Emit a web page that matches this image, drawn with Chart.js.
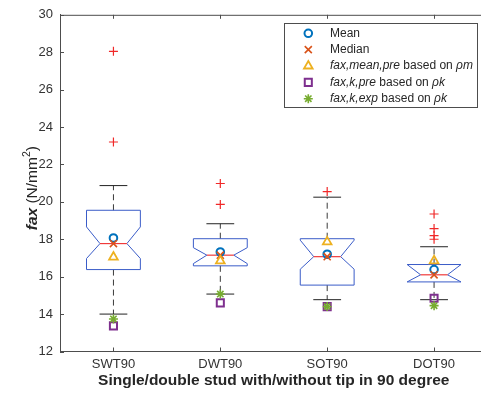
<!DOCTYPE html>
<html><head><meta charset="utf-8">
<script src="https://cdn.jsdelivr.net/npm/chart.js@4.4.1/dist/chart.umd.min.js"></script>
<style>
html,body{margin:0;padding:0;background:#fff;overflow:hidden}
#wrap{position:relative;width:500px;height:396px}
</style></head><body>
<div id="wrap"><canvas id="c"></canvas></div>
<script>
/* data */
const cats=['SWT90','DWT90','SOT90','DOT90'];
const q1=[16.38,16.58,15.55,15.72];
const q3=[19.55,18.03,18.03,16.65];
const med=[17.77,17.15,17.07,16.10];
const notchLo=[16.97,16.70,16.40,15.72];
const notchHi=[18.66,17.55,17.95,16.65];
const whLo=[14.00,15.07,14.77,14.77];
const whHi=[20.87,18.83,20.25,17.60];
const outliers=[[28.05,23.20],[20.98,19.86],[20.55],[19.35,18.57,18.20,18.00]];
const meanVal=[18.07,17.32,17.20,16.38];
const faxMeanPre=[17.05,16.85,17.86,16.85];
const faxKPre=[13.37,14.60,14.40,14.85];
const faxKExp=[13.74,15.07,14.40,14.45];
const yMin=12,yMax=30,yStep=2;

const C={mean:'#0072BD',med:'#D95319',tri:'#EDB120',sq:'#7E2F8E',star:'#77AC30',out:'#f02828',box:'#3a5cc8',axis:'#4d4d4d',txt:'#333'};
const FF='"Liberation Sans",Arial,sans-serif';
const BW=0.252,NW=0.126,CW=0.13; // box/notch/cap half widths (x units)

const pts=a=>a.map((v,i)=>({x:i+1,y:v}));
const outPts=[];outliers.forEach((a,i)=>a.forEach(v=>outPts.push({x:i+1,y:v})));
function mk(data,style,color,r,bw,order){
  return {data,pointStyle:style,pointRadius:r,pointHoverRadius:r,pointBorderWidth:bw,borderColor:color,
    backgroundColor:'rgba(0,0,0,0)',showLine:false,order};
}
const MK={ // marker looks, shared by plot and legend
  star:['star',4.5,1.6],rect:['rect',5,2],tri:['triangle',5,1.8],x:['crossRot',5,1.6],circ:['circle',3.8,2]};

const boxPlugin={id:'boxes',
  beforeDatasetsDraw(ch){
    const {ctx,scales:{x,y}}=ch;const X=v=>x.getPixelForValue(v),Y=v=>y.getPixelForValue(v);
    ctx.save();
    cats.forEach((c,i)=>{
      const xc=i+1;
      // whiskers
      ctx.strokeStyle='#3a3a3a';ctx.lineWidth=1;ctx.setLineDash([6,4]);
      ctx.beginPath();ctx.moveTo(X(xc),Y(q3[i]));ctx.lineTo(X(xc),Y(whHi[i]));
      ctx.moveTo(X(xc),Y(q1[i]));ctx.lineTo(X(xc),Y(whLo[i]));ctx.stroke();
      ctx.setLineDash([]);ctx.strokeStyle='#222';
      ctx.beginPath();
      [whHi[i],whLo[i]].forEach(v=>{ctx.moveTo(X(xc-CW),Y(v));ctx.lineTo(X(xc+CW),Y(v));});
      ctx.stroke();
      // notched box
      const P=[[xc-BW,q3[i]],[xc-BW,notchHi[i]],[xc-NW,med[i]],[xc-BW,notchLo[i]],[xc-BW,q1[i]],
               [xc+BW,q1[i]],[xc+BW,notchLo[i]],[xc+NW,med[i]],[xc+BW,notchHi[i]],[xc+BW,q3[i]]];
      ctx.strokeStyle=C.box;ctx.lineWidth=1;ctx.beginPath();
      P.forEach((p,k)=>k?ctx.lineTo(X(p[0]),Y(p[1])):ctx.moveTo(X(p[0]),Y(p[1])));
      ctx.closePath();ctx.stroke();
      ctx.strokeStyle='#f03a3a';ctx.lineWidth=1.2;ctx.beginPath();
      ctx.moveTo(X(xc-NW),Y(med[i]));ctx.lineTo(X(xc+NW),Y(med[i]));ctx.stroke();
    });
    ctx.restore();
  },
  afterDraw(ch){
    const {ctx,chartArea:a,scales:{x,y}}=ch;
    ctx.save();
    // frame + inward ticks
    ctx.strokeStyle=C.axis;ctx.lineWidth=1;ctx.beginPath();
    ctx.moveTo(a.left,a.top+0.5);ctx.lineTo(a.right,a.top+0.5);ctx.lineTo(a.right,a.bottom);
    for(let v=yMin;v<=yMax;v+=yStep){const py=Math.round(y.getPixelForValue(v))+0.5;
      ctx.moveTo(a.left,py);ctx.lineTo(a.left+4,py);ctx.moveTo(a.right,py);ctx.lineTo(a.right-4,py);}
    cats.forEach((c,i)=>{const px=Math.round(x.getPixelForValue(i+1))+0.5;
      ctx.moveTo(px,a.bottom);ctx.lineTo(px,a.bottom-4);ctx.moveTo(px,a.top);ctx.lineTo(px,a.top+4);});
    ctx.stroke();
    // y axis title with mixed styles
    const parts=[['bold italic 15.5px '+FF,'fax',0],['15.5px '+FF,' (N/mm',0],['10.5px '+FF,'2',-7],['15.5px '+FF,')',0]];
    let w=0;parts.forEach(p=>{ctx.font=p[0];w+=ctx.measureText(p[1]).width;});
    ctx.translate(37,(a.top+a.bottom)/2+5);ctx.rotate(-Math.PI/2);
    ctx.fillStyle='#262626';ctx.textBaseline='alphabetic';let cx=-w/2;
    parts.forEach(p=>{ctx.font=p[0];ctx.fillText(p[1],cx,p[2]);cx+=ctx.measureText(p[1]).width;});
    ctx.restore();
    // legend
    ctx.save();
    const lx=284.5,ly=23.5,lw=193,lh=84;
    ctx.fillStyle='#fff';ctx.fillRect(lx,ly,lw,lh);
    ctx.strokeStyle=C.axis;ctx.lineWidth=1;ctx.strokeRect(lx,ly,lw,lh);
    const rows=[
      [MK.circ,C.mean,[['n','Mean']]],
      [MK.x,C.med,[['n','Median']]],
      [MK.tri,C.tri,[['i','fax,mean,pre'],['n',' based on '],['i','\u03c1m']]],
      [MK.rect,C.sq,[['i','fax,k,pre'],['n',' based on '],['i','\u03c1k']]],
      [MK.star,C.star,[['i','fax,k,exp'],['n',' based on '],['i','\u03c1k']]]];
    rows.forEach((r,k)=>{
      const ry=33.3+k*16.35;
      ctx.strokeStyle=r[1];ctx.fillStyle='rgba(0,0,0,0)';ctx.lineWidth=r[0][2];
      Chart.helpers.drawPoint(ctx,{pointStyle:r[0][0],radius:r[0][1],borderWidth:r[0][2],rotation:0},308.3,ry);
      let tx=330;ctx.fillStyle='#262626';ctx.textBaseline='middle';
      r[2].forEach(s=>{ctx.font=(s[0]==='i'?'italic ':'')+'12px '+FF;ctx.fillText(s[1],tx,ry);tx+=ctx.measureText(s[1]).width;});
    });
    ctx.restore();
  }
};

new Chart(document.getElementById('c'),{
  type:'scatter',
  data:{datasets:[
    mk(pts(faxKExp),MK.star[0],C.star,MK.star[1],MK.star[2],0),
    mk(pts(faxKPre),MK.rect[0],C.sq,MK.rect[1],MK.rect[2],1),
    mk(pts(faxMeanPre),MK.tri[0],C.tri,MK.tri[1],MK.tri[2],2),
    mk(pts(med),MK.x[0],C.med,MK.x[1],MK.x[2],3),
    mk(pts(meanVal),MK.circ[0],C.mean,MK.circ[1],MK.circ[2],4),
    mk(outPts,'cross',C.out,4.5,1.2,5)]},
  options:{responsive:true,maintainAspectRatio:false,animation:false,events:[],
    layout:{padding:{top:13,right:12.5,left:0,bottom:0}},
    plugins:{legend:{display:false},tooltip:{enabled:false}},
    scales:{
      x:{type:'linear',min:0.5,max:4.5,
        afterBuildTicks:s=>{s.ticks=cats.map((c,i)=>({value:i+1}));},
        afterFit:s=>{s.height=44.5;},
        grid:{display:false,drawTicks:false},border:{display:true,color:C.axis,width:1},
        ticks:{padding:5,color:C.txt,font:{family:FF,size:13},callback:v=>cats[v-1]||''},
        title:{display:true,text:'Single/double stud with/without tip in 90 degree',color:'#262626',
          font:{family:FF,size:15.5,weight:'bold'},padding:{top:0,bottom:6}}},
      y:{min:yMin,max:yMax,
        afterFit:s=>{s.width=60;},
        grid:{display:false,drawTicks:false},border:{display:true,color:C.axis,width:1},
        ticks:{stepSize:yStep,padding:7,color:C.txt,font:{family:FF,size:13}}}}},
  plugins:[boxPlugin]
});
</script>
</body></html>
